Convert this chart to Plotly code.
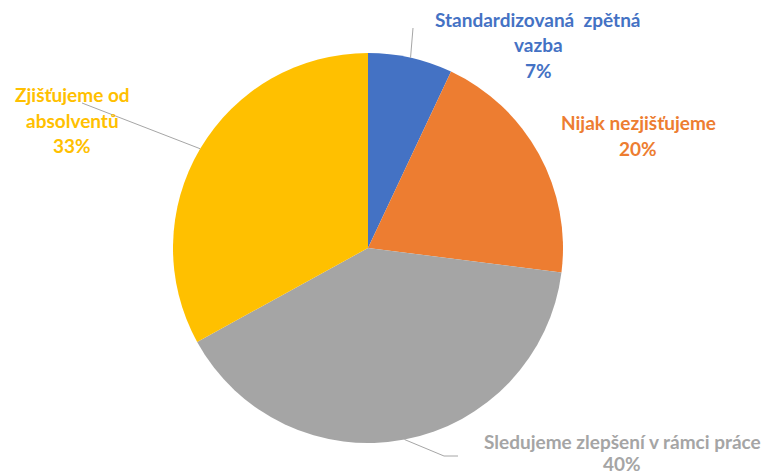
import math
import plotly.graph_objects as go

# ---- data ----
categories = ["Standardizovaná  zpětná vazba", "Nijak nezjišťujeme",
              "Sledujeme zlepšení v rámci práce", "Zjišťujeme od absolventů"]
values = [7, 20, 40, 33]
label_lines = [["Standardizovaná  zpětná", "vazba", "7%"],
               ["Nijak nezjišťujeme", "20%"],
               ["Sledujeme zlepšení v rámci práce", "40%"],
               ["Zjišťujeme od", "absolventů", "33%"]]
colors = ["#4472C4", "#ED7D31", "#A5A5A5", "#FFC000"]
text_colors = ["#4472C4", "#ED7D31", "#A5A5A5", "#FFC000"]

# ---- layout (pixels) ----
W, H = 774, 475
CX, CY, R = 368, 248, 195
FONT = "Lato"
# label block centers (px) and line spacing
label_pos = [(538, 19), (638, 123), (622, 441), (72, 95)]
line_gaps = [25.5, 25.5, 22, 25.5]
# leader line end points (px), None = no leader
leader_ends = [[(413, 28)], None, [(444, 456), (458, 456)], [(82, 103)]]

def px(x):
    return x / W

def py(y):
    return 1 - y / H

fig = go.Figure(go.Pie(
    labels=categories, values=values, sort=False, direction="clockwise",
    rotation=0, textinfo="none", hoverinfo="label+percent",
    marker=dict(colors=colors, line=dict(width=0)),
    domain=dict(x=[px(CX - R), px(CX + R)], y=[py(CY + R), py(CY - R)]),
    showlegend=False,
))

annotations = []
shapes = []
total = sum(values)
cum = 0
for i, v in enumerate(values):
    mid = (cum + v / 2) / total * 2 * math.pi
    cum += v
    sx = CX + R * math.sin(mid)
    sy = CY - R * math.cos(mid)
    lx, ly = label_pos[i]
    for k, t in enumerate(label_lines[i]):
        annotations.append(dict(
            x=px(lx), y=py(ly + k * line_gaps[i]), xref="paper", yref="paper",
            text=f"<b>{t}</b>", showarrow=False, xanchor="center", yanchor="middle",
            font=dict(family=FONT, size=19, color=text_colors[i])))
    if leader_ends[i]:
        pts = [(sx, sy)] + leader_ends[i]
        for (x0, y0), (x1, y1) in zip(pts[:-1], pts[1:]):
            shapes.append(dict(type="line", xref="paper", yref="paper",
                               x0=px(x0), y0=py(y0), x1=px(x1), y1=py(y1),
                               line=dict(color="#A6A6A6", width=1)))

fig.update_layout(
    width=W, height=H, margin=dict(l=0, r=0, t=0, b=0),
    paper_bgcolor="white", plot_bgcolor="white",
    annotations=annotations, shapes=shapes,
)

fig.write_html("out.html", config={"displayModeBar": False},
               post_script="document.body.style.margin='0';document.body.style.overflow='hidden';")
